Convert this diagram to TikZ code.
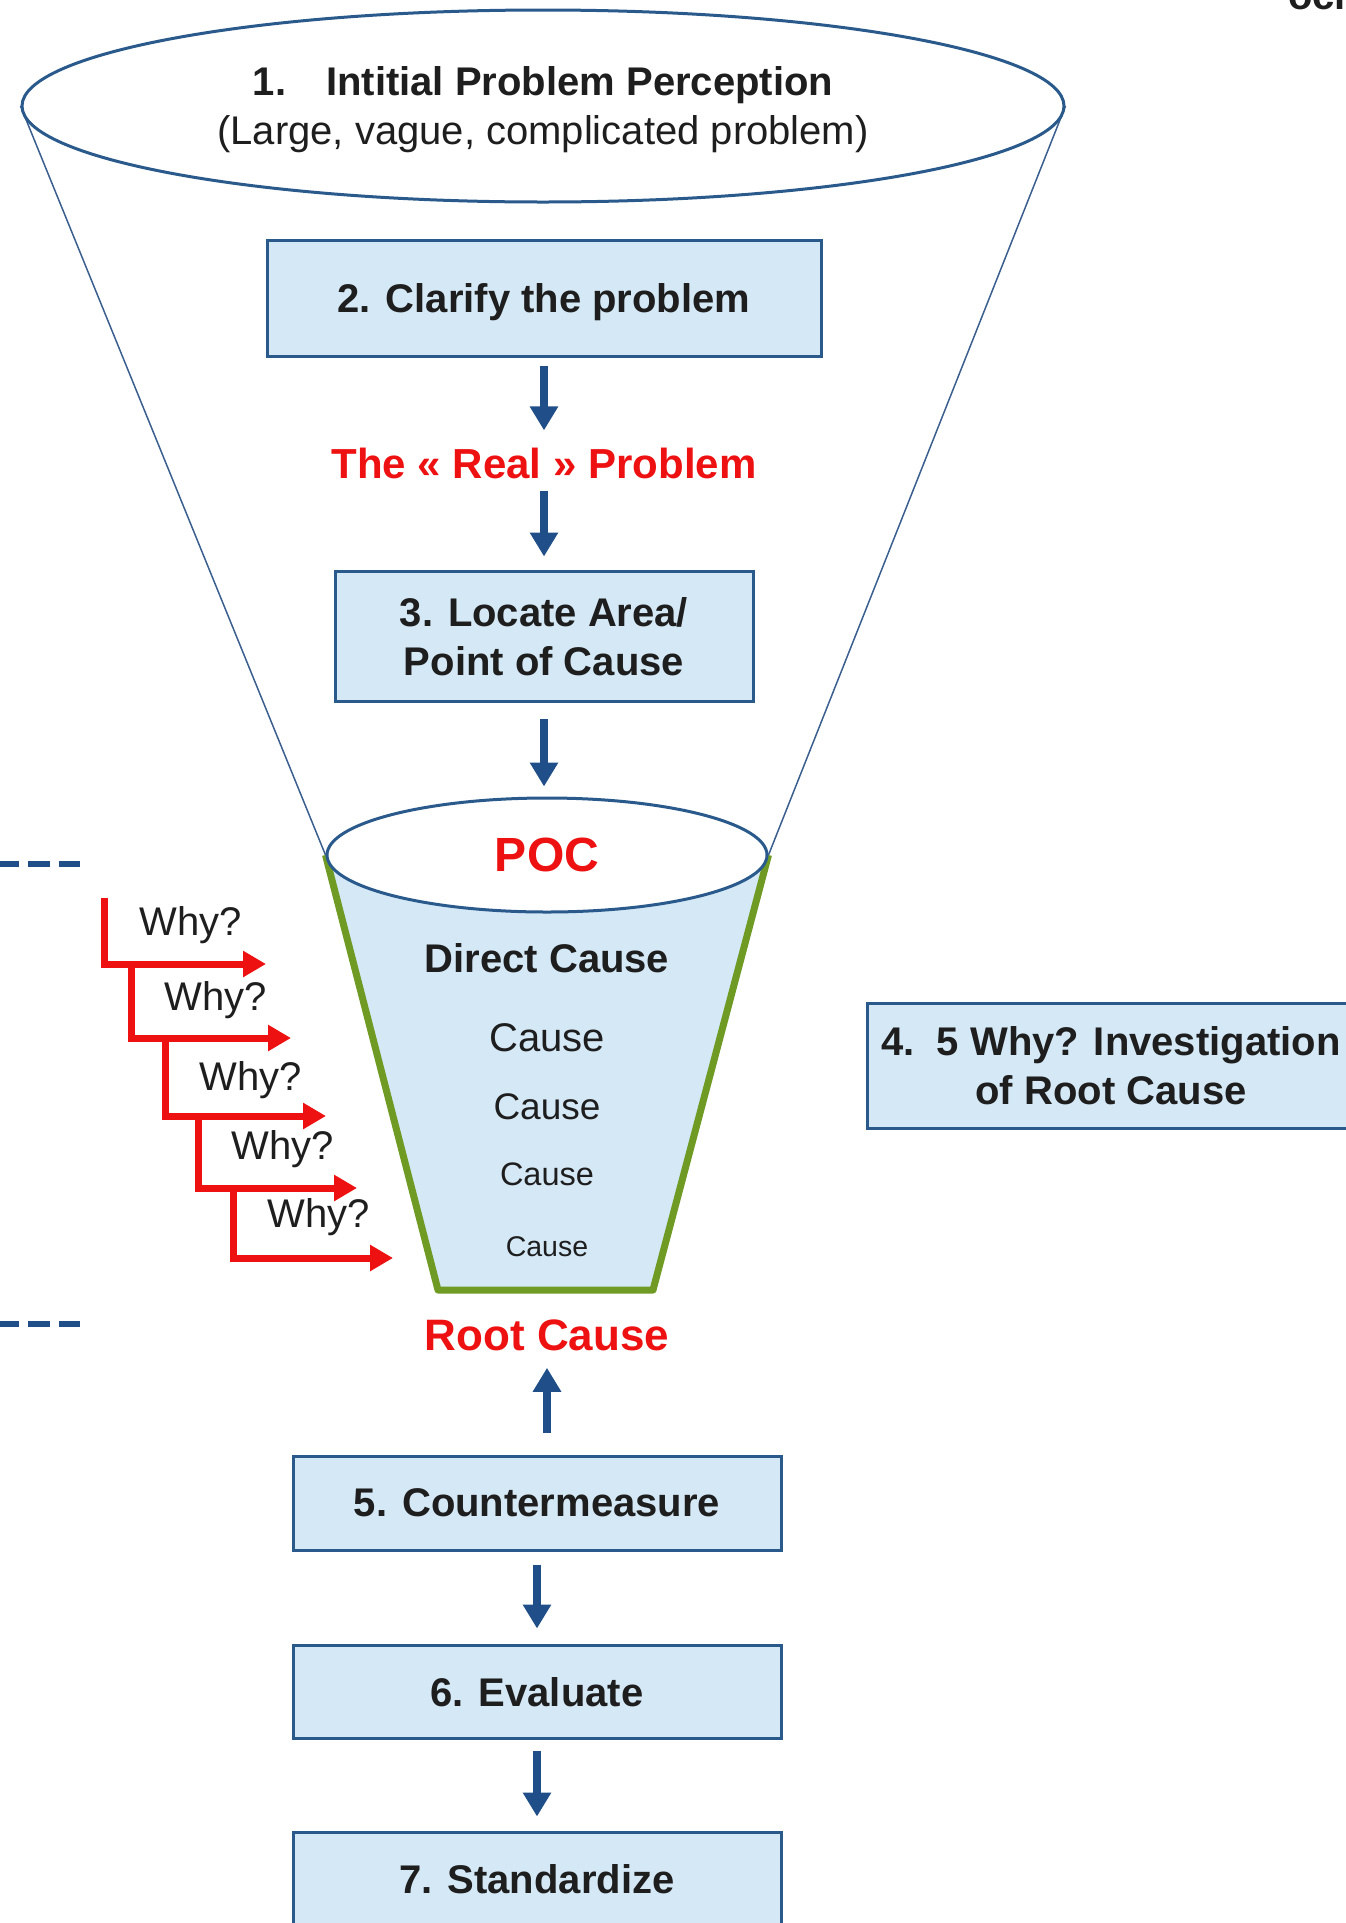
\documentclass[tikz,border=0pt]{standalone}
\usepackage{fontspec}
\setmainfont{Liberation Sans}
\usetikzlibrary{arrows.meta,shapes.geometric}
\pgfdeclarelayer{background}
\pgfsetlayers{background,main}
\definecolor{boxfill}{HTML}{D4E8F6}
\definecolor{boxblue}{HTML}{2A5A8C}
\definecolor{arrowblue}{HTML}{1F4E89}
\definecolor{funnelline}{HTML}{3A5F8F}
\definecolor{bucketgreen}{HTML}{6F9A24}
\definecolor{alertred}{HTML}{EE1111}
\definecolor{inktext}{HTML}{1E1E1E}
\newcommand\setsz[2]{\fontsize{#1pt}{#2pt}\selectfont}
\tikzset{
  stepbox/.style={draw=boxblue, line width=3pt, fill=boxfill, inner sep=0pt,
    align=center, text=inktext, text depth=0pt, font=\bfseries\setsz{40}{49}},
  ring/.style={ellipse, draw=boxblue, line width=3pt, fill=white, inner sep=0pt},
  redlabel/.style={inner sep=0pt, text=alertred},
  causetext/.style={inner sep=0pt, text=inktext},
  whylabel/.style={inner sep=0pt, text=inktext, font=\setsz{40}{48}},
  flowarrow/.style={draw=arrowblue, line width=8pt, -{Triangle[width=27pt,length=24pt]}},
  whyarrow/.style={draw=alertred, line width=7pt, -{Triangle[width=25pt,length=23pt]}},
  sidedash/.style={draw=arrowblue, line width=6pt, dash pattern=on 22pt off 9pt},
}
\begin{document}
\begin{tikzpicture}[x=1pt,y=-1pt]
\useasboundingbox (0,0) rectangle (1346,1923);
\clip (0,0) rectangle (1346,1923);

% funnel mouth and point of cause
\node[ring, minimum width=1042pt, minimum height=192pt, align=center,
      text=inktext, text depth=0pt, font=\setsz{40}{49}] (top) at (543,106)
  {\textbf{1.\hspace{40pt}Intitial Problem Perception}\\(Large, vague, complicated problem)};
\node[ring, minimum width=440pt, minimum height=114pt, text=alertred,
      font=\bfseries\setsz{48}{56}] (poc) at (547,855) {POC};

% bucket corners
\coordinate (bl) at (438,1290);
\coordinate (br) at (653,1290);

\begin{pgfonlayer}{background}
  \draw[funnelline, line width=1.5pt] (top.west) -- (poc.west);
  \draw[funnelline, line width=1.5pt] (top.east) -- (poc.east);
  \fill[boxfill] (poc.west) -- (bl) -- (br) -- (poc.east) -- cycle;
  \draw[bucketgreen, line width=7pt, line join=round] (poc.west) -- (bl) -- (br) -- (poc.east);
\end{pgfonlayer}

% process steps
\node[stepbox, minimum width=554pt, minimum height=116pt] (b2) at (544,298) {2. Clarify the problem};
\node[redlabel, font=\bfseries\setsz{42}{50}] (real) at (544,463) {The « Real » Problem};
\node[stepbox, minimum width=418pt, minimum height=130pt] (b3) at (544,636) {3. Locate Area/\\Point of Cause};

% causes inside the bucket
\node[causetext, font=\bfseries\setsz{40}{48}] (dc) at (547,958) {Direct Cause};
\node[causetext, font=\setsz{40}{48}] (c1) at (547,1038) {Cause};
\node[causetext, font=\setsz{37}{44}] (c2) at (547,1107) {Cause};
\node[causetext, font=\setsz{32.5}{40}] (c3) at (547,1174) {Cause};
\node[causetext, font=\setsz{28.5}{34}] (c4) at (547,1247) {Cause};

\node[redlabel, font=\bfseries\setsz{44}{52}] (root) at (547,1335) {Root Cause};

\node[stepbox, minimum width=488pt, minimum height=125pt] (b4) at (1111,1065.5) {4.\ \ 5 Why? Investigation\\of Root Cause};

\node[stepbox, minimum width=488pt, minimum height=94pt] (b5) at (537,1503) {5. Countermeasure};
\node[stepbox, minimum width=488pt, minimum height=93pt] (b6) at (537,1691.5) {6. Evaluate};
\node[stepbox, minimum width=488pt, minimum height=94pt] (b7) at (537,1879) {7. Standardize};

% flow arrows
\draw[flowarrow, shorten <=8pt, shorten >=17pt] (b2.south) -- (real.north);
\draw[flowarrow, shorten <=12pt, shorten >=13pt] (real.south) -- (b3.north);
\draw[flowarrow, shorten <=16pt, shorten >=10pt] (b3.south) -- (b3.south |- poc.north);
\draw[flowarrow, shorten <=22pt, shorten >=17pt] (root.south |- b5.north) -- (root.south);
\draw[flowarrow, shorten <=13pt, shorten >=15pt] (b5.south) -- (b6.north);
\draw[flowarrow, shorten <=11pt, shorten >=14pt] (b6.south) -- (b7.north);

% the five whys
\coordinate (y1s) at (104,898);  \coordinate (y1e) at (266,964);
\coordinate (y2s) at (131,964);  \coordinate (y2e) at (291,1038);
\coordinate (y3s) at (165,1038); \coordinate (y3e) at (326,1116);
\coordinate (y4s) at (198,1116); \coordinate (y4e) at (357,1188);
\coordinate (y5s) at (233,1188); \coordinate (y5e) at (393,1258);
\draw[whyarrow] (y1s) |- (y1e);
\draw[whyarrow] (y2s) |- (y2e);
\draw[whyarrow] (y3s) |- (y3e);
\draw[whyarrow] (y4s) |- (y4e);
\draw[whyarrow] (y5s) |- (y5e);
\node[whylabel] (w1) at (191,925) {Why?};
\node[whylabel] (w2) at (216,1000) {Why?};
\node[whylabel] (w3) at (251,1080) {Why?};
\node[whylabel] (w4) at (283,1149) {Why?};
\node[whylabel] (w5) at (319,1217) {Why?};

% side markers
\coordinate (d1a) at (-3,864);  \coordinate (d1b) at (80,864);
\coordinate (d2a) at (-3,1324); \coordinate (d2b) at (80,1324);
\draw[sidedash] (d1a) -- (d1b);
\draw[sidedash] (d2a) -- (d2b);

% caption fragment at the upper edge
\node[inner sep=0pt, anchor=base west, text=inktext, font=\bfseries\setsz{40}{48}] (frag) at (1288,9) {ocr};
\end{tikzpicture}
\end{document}
